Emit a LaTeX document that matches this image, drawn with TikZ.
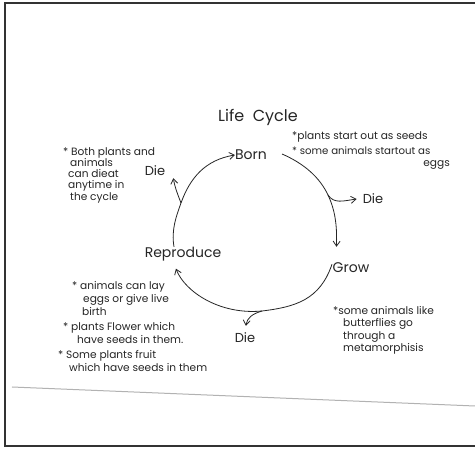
\documentclass[tikz,border=0pt]{standalone}
\usepackage{fontspec}
\setmainfont{Poppins}
\usetikzlibrary{arrows.meta}
\begin{document}
\begin{tikzpicture}[x=1pt,y=-1pt,
  ink/.style={draw=black!85, line width=0.8pt},
  arr/.style={ink, -{Straight Barb[length=5pt,width=7pt]}},
  label/.style={inner sep=0pt, text=black!85, font=\fontsize{14}{14}\selectfont},
  note/.style={inner sep=0pt, anchor=west, text=black!85, font=\fontsize{10.6}{10.6}\selectfont},
  frame/.style={draw=black!80, line width=1.6pt}]
\useasboundingbox (0,0) rectangle (475,449);
\fill[white] (0,0) rectangle (475,449);
% paper frame
\draw[frame] (475,3) -- (5,3) -- (5,446) -- (475,446);
\draw[black!30, line width=1pt] (12,387) -- (475,406);

% title
\node[label, font=\fontsize{16}{16}\selectfont] (title) at (258,117) {Life\ \ Cycle};

% stage nodes
\node[label] (born) at (251,155) {Born};
\node[label] (grow) at (351,268) {Grow};
\node[label] (repro) at (183,254) {Reproduce};
\node[label, font=\fontsize{13}{13}\selectfont] (dieL) at (155,171) {Die};
\node[label, font=\fontsize{13}{13}\selectfont] (dieR) at (373,199) {Die};
\node[label, font=\fontsize{13}{13}\selectfont] (dieB) at (245,338) {Die};

% branch points
\coordinate (bL) at (181,203);
\coordinate (bR) at (328,195);
\coordinate (bB) at (262,311);

% cycle
\draw[arr] ([xshift=-9pt]repro.north) .. controls (171,230) and (176.5,215.5) .. (bL)
  .. controls (190,178) and (205,160) .. (born.west);
\draw[ink] ([xshift=15pt,yshift=1pt]born.east) .. controls (305,164) and (320,178) .. (bR);
\draw[arr, shorten >=16pt] (bR) .. controls (336,212) and (337,228) .. (grow.north -| 336,0);
\draw[ink] ([xshift=-19pt,yshift=9pt]grow.south) .. controls (320,300) and (295,307) .. (bB);
\draw[arr, shorten >=8pt] (bB) .. controls (220,315) and (185,292) .. ([xshift=-10pt]repro.south);

% branches to Die
\draw[arr, shorten >=2pt] (bL) .. controls (178,195) and (175,188) .. (dieL.south west -| 173,0);
\draw[arr] (bR) .. controls (334,204) and (343,201) .. ([xshift=-6pt]dieR.west);
\draw[arr, shorten >=7pt] (bB) .. controls (252,314) and (247,318) .. (dieB.north);

% notes
\node[note] (n1) at (292,137) {*plants start out as seeds};
\node[note, font=\fontsize{10.2}{10.2}\selectfont] (n2) at (292,151) {* some animals startout as};
\node[note, anchor=east] (n3) at (450,165) {eggs};

\node[note] (n4) at (63,153) {* Both plants and};
\node[note] (n5) at (70,163) {animals};
\node[note] (n6) at (68,174) {can dieat};
\node[note] (n7) at (68,186) {anytime in};
\node[note] (n8) at (70,198) {the cycle};

\node[note] (n9) at (72,287) {* animals can lay};
\node[note] (n10) at (83,300) {eggs or give live};
\node[note] (n11) at (82,312) {birth};
\node[note] (n12) at (63,328) {* plants Flower which};
\node[note] (n13) at (77,340) {have seeds in them.};
\node[note] (n14) at (58,356) {* Some plants fruit};
\node[note] (n15) at (69,368) {which have seeds in them};

\node[note] (n16) at (333,311) {*some animals like};
\node[note] (n17) at (343,324) {butterflies go};
\node[note] (n18) at (343,337) {through a};
\node[note] (n19) at (343,349) {metamorphisis};
\end{tikzpicture}
\end{document}
